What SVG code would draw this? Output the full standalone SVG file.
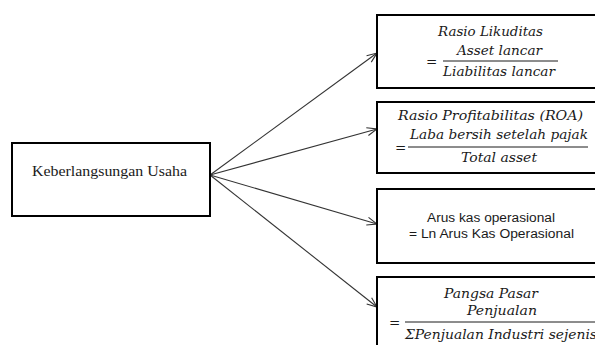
<svg xmlns="http://www.w3.org/2000/svg" width="595" height="345" viewBox="0 0 595 345">
<style>
.box{fill:#fff;stroke:#000;stroke-width:2}
.m{font-family:"DejaVu Serif","Liberation Serif",serif;font-style:italic;font-size:13.5px;fill:#1a1a1a}
.s{font-family:"Liberation Sans","DejaVu Sans",sans-serif;font-size:12.5px;fill:#1a1a1a}
.t{font-family:"Liberation Serif",serif;font-size:14px;fill:#1a1a1a}
.frac{stroke:#1a1a1a;stroke-width:1}
.conn{stroke:#333;stroke-width:1.1;fill:none;marker-end:url(#arr)}
</style>
<defs>
<marker id="arr" viewBox="0 0 12 10" refX="11" refY="5" markerWidth="12" markerHeight="10" markerUnits="userSpaceOnUse" orient="auto">
<path d="M1,1 L11,5 L1,9" fill="none" stroke="#333" stroke-width="1.1"/>
</marker>
</defs>
<rect width="595" height="345" fill="#fff"/>
<g id="connectors">
<line class="conn" x1="210" y1="175" x2="377" y2="53"/>
<line class="conn" x1="210" y1="175" x2="377" y2="129"/>
<line class="conn" x1="210" y1="175" x2="377" y2="224"/>
<line class="conn" x1="210" y1="175" x2="377" y2="307"/>
</g>
<g id="keberlangsungan">
<rect class="box" x="12" y="143" width="198" height="73"/>
<text class="t" x="32" y="176" textLength="155" lengthAdjust="spacingAndGlyphs">Keberlangsungan Usaha</text>
</g>
<g id="likuditas">
<rect class="box" x="377" y="15" width="230" height="73"/>
<text class="m" x="438" y="36" textLength="105" lengthAdjust="spacingAndGlyphs">Rasio Likuditas</text>
<text class="m" x="457" y="55" textLength="85" lengthAdjust="spacingAndGlyphs">Asset lancar</text>
<text class="m" x="426" y="66">=</text>
<line class="frac" x1="443" y1="61" x2="558" y2="61"/>
<text class="m" x="443" y="76" textLength="112" lengthAdjust="spacingAndGlyphs">Liabilitas lancar</text>
</g>
<g id="profitabilitas">
<rect class="box" x="377" y="102" width="230" height="71"/>
<text class="m" x="398" y="120" textLength="185" lengthAdjust="spacingAndGlyphs">Rasio Profitabilitas (ROA)</text>
<text class="m" x="410" y="139" textLength="178" lengthAdjust="spacingAndGlyphs">Laba bersih setelah pajak</text>
<text class="m" x="395" y="152">=</text>
<line class="frac" x1="408" y1="147" x2="588" y2="147"/>
<text class="m" x="461" y="162" textLength="76" lengthAdjust="spacingAndGlyphs">Total asset</text>
</g>
<g id="arus-kas">
<rect class="box" x="377" y="189" width="230" height="74"/>
<text class="s" x="427" y="222" textLength="128" lengthAdjust="spacingAndGlyphs">Arus kas operasional</text>
<text class="s" x="409" y="238" textLength="165" lengthAdjust="spacingAndGlyphs">= Ln Arus Kas Operasional</text>
</g>
<g id="pangsa-pasar">
<rect class="box" x="377" y="277" width="230" height="80"/>
<text class="m" x="444" y="298" textLength="94" lengthAdjust="spacingAndGlyphs">Pangsa Pasar</text>
<text class="m" x="467" y="315" textLength="70" lengthAdjust="spacingAndGlyphs">Penjualan</text>
<text class="m" x="389" y="327">=</text>
<line class="frac" x1="405" y1="322" x2="600" y2="322"/>
<text class="m" x="405" y="339" textLength="192" lengthAdjust="spacingAndGlyphs">ΣPenjualan Industri sejenis</text>
</g>
</svg>
